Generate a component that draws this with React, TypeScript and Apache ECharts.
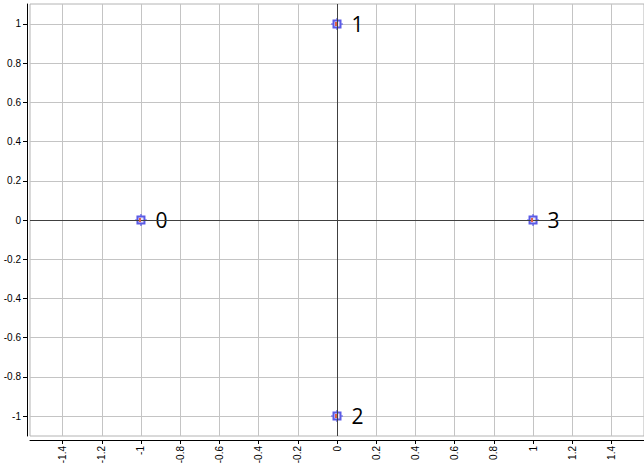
import React, { useEffect, useRef } from "react";
import * as echarts from "echarts";

const pointX = [-1, 0, 0, 1];
const pointY = [0, 1, -1, 0];
const pointLabels = ["0", "1", "2", "3"];
const xTicks = [-1.4, -1.2, -1, -0.8, -0.6, -0.4, -0.2, 0, 0.2, 0.4, 0.6, 0.8, 1, 1.2, 1.4];
const yTicks = [-1, -0.8, -0.6, -0.4, -0.2, 0, 0.2, 0.4, 0.6, 0.8, 1];
const xRange = [-1.566, 1.566];
const yRange = [-1.102, 1.102];

const fmt = (v: number) => String(Math.round(v * 10) / 10);

export default function App() {
  const ref = useRef<HTMLDivElement>(null);
  useEffect(() => {
    if (!ref.current) return;
    const chart = echarts.init(ref.current, undefined, { renderer: "svg" });
    const pts = pointX.map((x, i) => [x, pointY[i], pointLabels[i]]);
    chart.setOption({
      animation: false,
      grid: {
        left: 30,
        right: 0,
        top: 4,
        bottom: 36,
        show: true,
        borderColor: "#b4b4b4",
        borderWidth: 1,
      },
      xAxis: {
        type: "value",
        min: xRange[0],
        max: xRange[1],
        position: "bottom",
        offset: 4,
        axisLine: { show: true, onZero: false, lineStyle: { color: "#000", width: 1 } },
        axisTick: { show: true, length: 4, customValues: xTicks, lineStyle: { color: "#000" } },
        axisLabel: {
          customValues: xTicks,
          rotate: 90,
          margin: 6,
          fontSize: 10,
          fontFamily: "Liberation Sans",
          color: "#000",
          formatter: fmt,
        },
        splitLine: { show: true, lineStyle: { color: "#c4c4c4", width: 1 } },
      },
      yAxis: {
        type: "value",
        min: yRange[0],
        max: yRange[1],
        position: "left",
        offset: 3,
        axisLine: { show: true, onZero: false, lineStyle: { color: "#000", width: 1 } },
        axisTick: { show: true, length: 4, customValues: yTicks, lineStyle: { color: "#000" } },
        axisLabel: {
          customValues: yTicks,
          margin: 6,
          fontSize: 10,
          fontFamily: "Liberation Sans",
          color: "#000",
          formatter: fmt,
        },
        splitLine: { show: true, lineStyle: { color: "#c4c4c4", width: 1 } },
      },
      series: [
        {
          type: "scatter",
          data: pts,
          silent: true,
          symbol: "path://M0,5.4h12v1.2h-12z M5.4,0h1.2v12h-1.2z",
          symbolSize: 12,
          itemStyle: { color: "#5a5ae6", opacity: 1 },
          markLine: {
            silent: true,
            symbol: "none",
            label: { show: false },
            lineStyle: { color: "#404040", width: 1, type: "solid" },
            data: [{ xAxis: 0 }, { yAxis: 0 }],
          },
          z: 3,
        },
        {
          type: "scatter",
          data: pts,
          silent: true,
          symbol: "rect",
          symbolSize: 7,
          itemStyle: { color: "#ece6f4", borderColor: "#5a5ae6", borderWidth: 2, opacity: 1 },
          label: {
            show: true,
            position: "right",
            distance: 10,
            formatter: (p: any) => p.data[2],
            fontSize: 21,
            fontFamily: "Open Sans",
            color: "#000",
          },
          z: 4,
        },
        {
          type: "scatter",
          data: pts,
          silent: true,
          symbol: "rect",
          symbolSize: [2, 4],
          symbolOffset: [-1, 0],
          itemStyle: { color: "#e0604a", opacity: 1 },
          z: 5,
        },
      ],
    });
    return () => chart.dispose();
  }, []);
  return (
    <div
      ref={ref}
      style={{ position: "fixed", left: 0, top: 0, width: 644, height: 472, background: "#fff" }}
    />
  );
}
